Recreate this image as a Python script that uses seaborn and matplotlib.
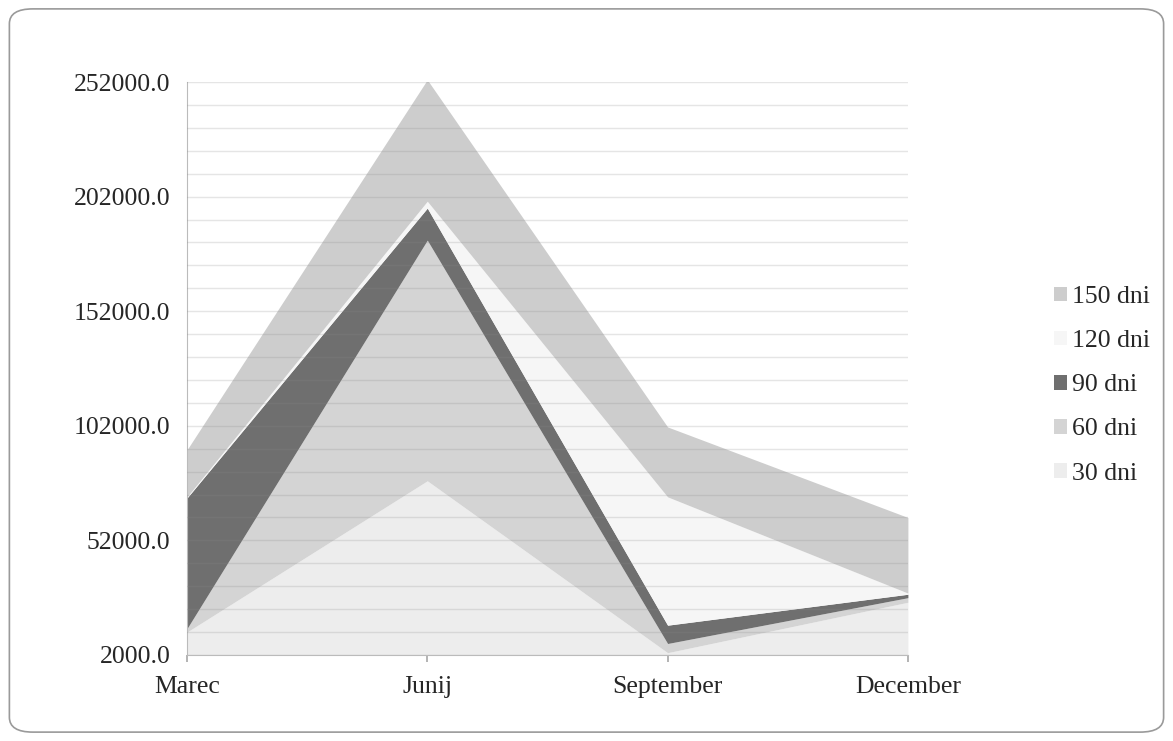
import matplotlib
matplotlib.use("Agg")
import matplotlib.pyplot as plt
from matplotlib.patches import FancyBboxPatch, Patch
import seaborn as sns
import numpy as np
import pandas as pd

months = ["Marec", "Junij", "September", "December"]
series_names = ["30 dni", "60 dni", "90 dni", "120 dni", "150 dni"]
dni_30 = [12000, 78000, 3000, 25000]
dni_60 = [1500, 105000, 4000, 2000]
dni_90 = [57000, 14000, 8000, 1500]
dni_120 = [500, 3000, 56000, 500]
dni_150 = [20500, 53000, 30500, 33000]
y_ticks = [2000, 52000, 102000, 152000, 202000, 252000]

colors = ["#ededed", "#d4d4d4", "#6f6f6f", "#f6f6f6", "#cdcdcd"]

df = pd.DataFrame({"30 dni": dni_30, "60 dni": dni_60, "90 dni": dni_90,
                   "120 dni": dni_120, "150 dni": dni_150}, index=months)

sns.set_theme(style="white")
plt.rcParams["font.family"] = ["Liberation Serif", "DejaVu Serif"]

fig = plt.figure(figsize=(11.73, 7.41), dpi=100)
fig.patches.append(FancyBboxPatch((0.008, 0.012), 0.984, 0.976,
                                  boxstyle="round,pad=0,rounding_size=0.02",
                                  transform=fig.transFigure, fill=False,
                                  edgecolor="#9a9a9a", linewidth=1.2))
ax = fig.add_axes([0.1594, 0.1161, 0.6146, 0.7732])

x = np.arange(len(months))
ax.stackplot(x, [df[c].values for c in series_names], colors=colors,
             labels=series_names, linewidth=0)

# grid lines every 10000 drawn lightly over the areas
for g in np.arange(2000, 252001, 10000):
    ax.axhline(g, color="#8a8a8a", alpha=0.22, linewidth=1.0, zorder=3)

ax.set_xlim(0, len(months) - 1)
ax.set_ylim(2000, 252000)
ax.set_yticks(y_ticks)
ax.set_yticklabels([f"{v:.1f}" for v in y_ticks], fontsize=18.5)
ax.set_xticks(x)
ax.set_xticklabels(months, fontsize=18.5)
ax.tick_params(axis="x", length=5, color="#aaaaaa", pad=10, direction="out", bottom=True)
ax.tick_params(axis="y", length=0, pad=12)

for s in ["top", "right"]:
    ax.spines[s].set_visible(False)
ax.spines["left"].set_color("#bbbbbb")
ax.spines["bottom"].set_color("#bbbbbb")
ax.spines["left"].set_linewidth(0.8)
ax.spines["bottom"].set_linewidth(0.8)

handles = [Patch(facecolor=colors[i], edgecolor="none") for i in range(len(series_names))][::-1]
labels = series_names[::-1]
fig.legend(handles, labels, loc="center left", bbox_to_anchor=(0.879, 0.48),
           frameon=False, fontsize=18.5, handlelength=0.5, handleheight=0.5,
           handletextpad=0.2, labelspacing=0.86)

fig.savefig("out.png", dpi=100)
